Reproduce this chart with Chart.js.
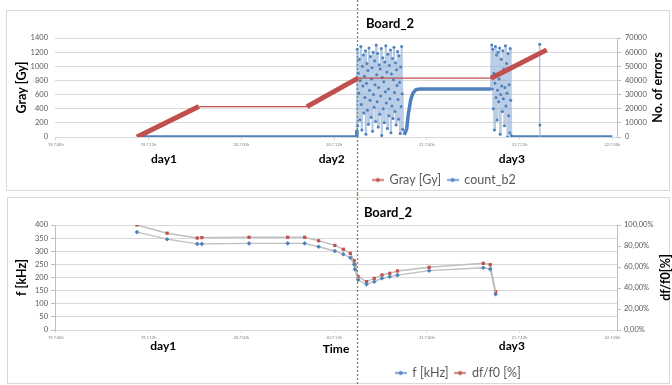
<!DOCTYPE html>
<html><head><meta charset="utf-8">
<script src="https://cdn.jsdelivr.net/npm/chart.js@4.4.1/dist/chart.umd.min.js"></script>
<style>
html,body{margin:0;padding:0;background:#fff;}
#wrap{position:relative;width:672px;height:385px;overflow:hidden;}
#c1{position:absolute;left:0;top:0;}
#c2{position:absolute;left:0;top:194px;}
</style></head><body>
<div id="wrap">
<canvas id="c1" width="672" height="194"></canvas>
<canvas id="c2" width="672" height="191"></canvas>
</div>
<script>
// ---------- shared axis ----------
const tickHours = [0, 12, 24, 36, 48, 60, 72];
const tickLabels = ['19.7.00h', '19.7.12h', '20.7.00h', '20.7.12h', '21.7.00h', '21.7.12h', '22.7.00h'];
const eventHour = 38.95;
const dayLabelsTop = ['day1', 'day2', 'day3'];
const dayHoursTop = [14.0, 35.7, 59.0];
const dayLabelsBottom = ['day1', 'day3'];
const dayHoursBottom = [13.9, 59.0];

// ---------- top chart: Gray [Gy] ----------
const grayHours = [10.5, 18.5, 32.5, 39.1, 56.3, 63.5];
const grayValues = [0, 430, 430, 832, 832, 1232];

// ---------- top chart: count_b2 ----------
const countLeadHours = [10.5, 38.85, 38.95];
const countLeadValues = [0, 0, 5000];
const burst1Start = 39.0, burst1Interval = 0.066;
const burst1Values = [62000, 8000, 45000, 31000, 55000, 12000, 40000, 64000, 23000, 5000,
  50000, 36000, 58000, 17000, 43000, 28000, 61000, 2000, 38000, 52000,
  19000, 47000, 9000, 63000, 33000, 26000, 57000, 14000, 41000, 49000,
  4000, 60000, 30000, 21000, 54000, 37000, 11000, 65000, 44000, 25000,
  59000, 7000, 35000, 51000, 16000, 48000, 29000, 62500, 1000, 42000,
  56000, 20000, 39000, 10000, 53000, 32000, 64500, 24000, 46000, 6000,
  58500, 34000, 15000, 50500, 27000, 61500, 3000, 44500, 22000, 55500,
  13000, 40500, 63500, 31500, 18000, 52500, 8500, 47500, 36500, 60500,
  26500, 12500, 57500, 38500, 2500, 49500, 21500, 64000, 30500, 5500];
const countMidHours = [45.1, 45.4, 45.6, 45.9, 46.2, 46.6, 47.1, 56.3];
const countMidValues = [1500, 6000, 16000, 26000, 31000, 33500, 34000, 34000];
const burst2Start = 56.4, burst2Interval = 0.068;
const burst2Values = [65000, 34000, 62000, 20000, 45000, 5000, 38000, 64000, 28000, 58000,
  12000, 33000, 60000, 25000, 41000, 63000, 2000, 30000, 55000, 36000,
  18000, 61000, 27000, 48000, 8000, 35000, 64500, 22000, 52000, 31000,
  0, 59000, 15000, 37000, 3000, 62500, 26000, 1000];
const countTailHours = [59.0, 62.55];
const countTailValues = [0, 0];
const spikeHours = [62.6, 62.62];
const spikeValues = [65500, 8500];
const countEndHours = [62.65, 72];
const countEndValues = [0, 0];

// ---------- bottom chart ----------
const freqHours = [10.5, 14.4, 18.3, 18.9, 25.0, 30.0, 32.2, 34.0, 36.1, 37.2, 38.1, 38.6, 38.7, 39.1, 40.2, 41.2, 42.2, 43.2, 44.2, 48.3, 55.3, 56.2, 56.9];
const freqKHz = [373, 346, 328, 328, 330, 330, 330, 317, 301, 289, 275, 250, 231, 191, 174, 184, 197, 203, 209, 226, 237, 232, 136];
const ratioPct = [100, 92.2, 87.6, 88.0, 88.3, 88.3, 88.3, 85.0, 80.6, 76.9, 73.0, 66.0, 61.9, 50.8, 46.0, 49.2, 52.4, 54.0, 56.2, 59.7, 63.5, 62.2, 36.5];

// ---------- build point lists (s: 0 solid line, 1 burst, 2 spike) ----------
function pts(xs, ys, kind) { return xs.map((x, i) => ({x: x, y: ys[i], s: kind})); }
function burstPts(start, step, ys) { return ys.map((y, i) => ({x: start + i * step, y: y, s: 1})); }
const grayPts = pts(grayHours, grayValues, 0);
const countPts = [].concat(
  pts(countLeadHours, countLeadValues, 0),
  burstPts(burst1Start, burst1Interval, burst1Values),
  pts(countMidHours, countMidValues, 0),
  burstPts(burst2Start, burst2Interval, burst2Values),
  pts(countTailHours, countTailValues, 0),
  pts(spikeHours, spikeValues, 2),
  pts(countEndHours, countEndValues, 0)
);
const freqPts = pts(freqHours, freqKHz, 0);
const ratioPts = pts(freqHours, ratioPct, 0);

const RED = '#C0504D', BLUE = '#4F81BD', GRID = '#D9D9D9', AXIS = '#BFBFBF', TXT = '#595959';
const FONT = 'Lato';

function segKind(c) { return Math.max(countPts[c.p0DataIndex].s, countPts[c.p1DataIndex].s); }

function legendMark(color) {
  const c = document.createElement('canvas'); c.width = 12; c.height = 7;
  const g = c.getContext('2d');
  g.strokeStyle = color; g.lineWidth = 1.5;
  g.beginPath(); g.moveTo(0, 3.5); g.lineTo(12, 3.5); g.stroke();
  g.fillStyle = color; g.beginPath(); g.arc(6, 3.5, 2, 0, Math.PI * 2); g.fill();
  return c;
}

function legendCfg(marks) {
  return {
    position: 'bottom',
    labels: {
      usePointStyle: true, pointStyleWidth: 11, padding: 6,
      font: {family: FONT, size: 12.5}, color: TXT,
      generateLabels: chart => chart.data.datasets.map((ds, i) => ({
        text: ds.label, pointStyle: marks[i], datasetIndex: i, hidden: false,
        lineWidth: 0, fillStyle: 'transparent', strokeStyle: 'transparent', fontColor: TXT
      }))
    }
  };
}

function xScaleCfg(height, title) {
  return {
    type: 'linear', min: -0.1, max: 72.6,
    afterBuildTicks: s => { s.ticks = tickHours.map(v => ({value: v})); },
    afterFit: s => { s.height = height; },
    grid: {drawOnChartArea: false, drawTicks: true, tickLength: 3, tickColor: GRID},
    border: {display: true, color: GRID},
    ticks: {autoSkip: false, maxRotation: 0, padding: 2, font: {family: FONT, size: 4}, color: '#7F7F7F',
      callback: v => { const i = tickHours.indexOf(v); return i >= 0 ? tickLabels[i] : ''; }},
    title: title ? {display: true, text: title, font: {family: FONT, size: 12, weight: 'bold'}, color: '#000', padding: 0} : {display: false}
  };
}

function decor(o) {
  return {
    id: 'decor',
    afterLayout(chart) {
      const lg = chart.legend;
      const dx = o.legendX - (lg.left + lg.right) / 2;
      lg.left += dx; lg.right += dx;
      const dy = o.legendY - (lg.top + lg.options.labels.padding + 12.5 / 2);
      lg.top += dy; lg.bottom += dy;
    },
    beforeDraw(chart) {
      const ctx = chart.ctx;
      ctx.save(); ctx.strokeStyle = GRID; ctx.lineWidth = 1;
      ctx.strokeRect(o.panel[0], o.panel[1], o.panel[2], o.panel[3]);
      ctx.restore();
    },
    afterDraw(chart) {
      const {ctx, chartArea, scales} = chart;
      const xs = scales.x;
      ctx.save();
      ctx.fillStyle = '#000'; ctx.textAlign = 'center'; ctx.textBaseline = 'middle';
      ctx.save();
      ctx.font = 'bold 12.5px ' + FONT;
      ctx.translate(o.rightTitleX, (chartArea.top + chartArea.bottom) / 2);
      ctx.rotate(-Math.PI / 2);
      ctx.fillText(o.rightTitle, 0, 0);
      ctx.restore();
      ctx.font = 'bold 13px ' + FONT;
      ctx.fillText(o.board, o.boardX, o.boardY);
      ctx.font = 'bold 12px ' + FONT;
      o.days.forEach((d, i) => ctx.fillText(d, xs.getPixelForValue(o.dayHours[i]), o.dayY));
      const ex = Math.round(xs.getPixelForValue(eventHour)) + 0.5;
      ctx.strokeStyle = '#76923C'; ctx.lineWidth = 1.3; ctx.setLineDash([2, 2]);
      ctx.beginPath(); ctx.moveTo(ex, 0); ctx.lineTo(ex, chart.height); ctx.stroke();
      ctx.restore();
    }
  };
}

// ---------- top chart ----------
new Chart(document.getElementById('c1'), {
  type: 'line',
  data: {datasets: [
    {label: 'Gray [Gy]', data: grayPts, yAxisID: 'y', borderColor: RED, pointRadius: 0,
      segment: {borderWidth: c => (c.p0.y !== c.p1.y) ? 5 : 1.3}},
    {label: 'count_b2', data: countPts, yAxisID: 'y2', borderColor: BLUE,
      pointRadius: c => (c.raw && c.raw.s) ? 1.5 : 0, pointBackgroundColor: BLUE, pointBorderWidth: 0,
      segment: {
        borderWidth: c => { const k = segKind(c); return k === 1 ? 2.2 : k === 2 ? 1 : 3.5; },
        borderColor: c => segKind(c) ? 'rgba(140,172,214,0.6)' : BLUE
      }}
  ]},
  options: {
    responsive: false, animation: false, parsing: false,
    layout: {padding: {left: 14, right: 6, top: 38, bottom: 0}},
    plugins: {legend: legendCfg([legendMark(RED), legendMark(BLUE)]), tooltip: {enabled: false}},
    scales: {
      x: xScaleCfg(28.5, null),
      y: {position: 'left', min: 0, max: 1400,
        afterFit: s => { s.width = 41; },
        ticks: {stepSize: 200, padding: 7, font: {family: FONT, size: 7.5}, color: TXT, callback: v => String(v)},
        grid: {color: GRID, drawTicks: false}, border: {display: false},
        title: {display: true, text: 'Gray [Gy]', font: {family: FONT, size: 12.5, weight: 'bold'}, color: '#000', padding: 0}},
      y2: {position: 'right', min: 0, max: 70000,
        afterFit: s => { s.width = 49; },
        ticks: {stepSize: 10000, padding: 4, font: {family: FONT, size: 7.5}, color: TXT, callback: v => String(v)},
        grid: {drawOnChartArea: false, drawTicks: true, tickLength: 4, tickColor: AXIS},
        border: {display: true, color: AXIS}}
    }
  },
  plugins: [decor({panel: [6.5, 10.5, 663, 180], rightTitle: 'No. of errors', rightTitleX: 658,
    board: 'Board_2', boardX: 390, boardY: 24, days: dayLabelsTop, dayHours: dayHoursTop, dayY: 159,
    legendX: 444, legendY: 180})]
});

// ---------- bottom chart ----------
new Chart(document.getElementById('c2'), {
  type: 'line',
  data: {datasets: [
    {label: 'f [kHz]', data: freqPts, yAxisID: 'y', borderColor: AXIS, borderWidth: 1.4,
      pointStyle: 'rectRot', pointRadius: 2.3, pointBackgroundColor: BLUE, pointBorderWidth: 0},
    {label: 'df/f0 [%]', data: ratioPts, yAxisID: 'y2', borderColor: AXIS, borderWidth: 1.4,
      pointStyle: 'rect', pointRadius: 2.3, pointBackgroundColor: RED, pointBorderWidth: 0}
  ]},
  options: {
    responsive: false, animation: false, parsing: false,
    layout: {padding: {left: 14, right: 0, top: 31, bottom: 0}},
    plugins: {legend: legendCfg([legendMark(BLUE), legendMark(RED)]), tooltip: {enabled: false}},
    scales: {
      x: xScaleCfg(26.5, 'Time'),
      y: {position: 'left', min: 0, max: 400,
        afterFit: s => { s.width = 41; },
        ticks: {stepSize: 50, padding: 3, font: {family: FONT, size: 7.5}, color: TXT, callback: v => String(v)},
        grid: {color: GRID, drawTicks: true, tickLength: 4, tickColor: AXIS}, border: {display: true, color: AXIS},
        title: {display: true, text: 'f [kHz]', font: {family: FONT, size: 12.5, weight: 'bold'}, color: '#000', padding: 0}},
      y2: {position: 'right', min: 0, max: 100,
        afterFit: s => { s.width = 55; },
        ticks: {stepSize: 20, padding: 3, font: {family: FONT, size: 7.5}, color: TXT,
          callback: v => v.toFixed(2).replace('.', ',') + '%'},
        grid: {drawOnChartArea: false, drawTicks: true, tickLength: 4, tickColor: AXIS},
        border: {display: true, color: AXIS}}
    }
  },
  plugins: [decor({panel: [7.5, 3.5, 662, 186], rightTitle: 'df/f0[%]', rightTitleX: 666,
    board: 'Board_2', boardX: 388, boardY: 19, days: dayLabelsBottom, dayHours: dayHoursBottom, dayY: 152,
    legendX: 458, legendY: 179})]
});
</script>
</body></html>
